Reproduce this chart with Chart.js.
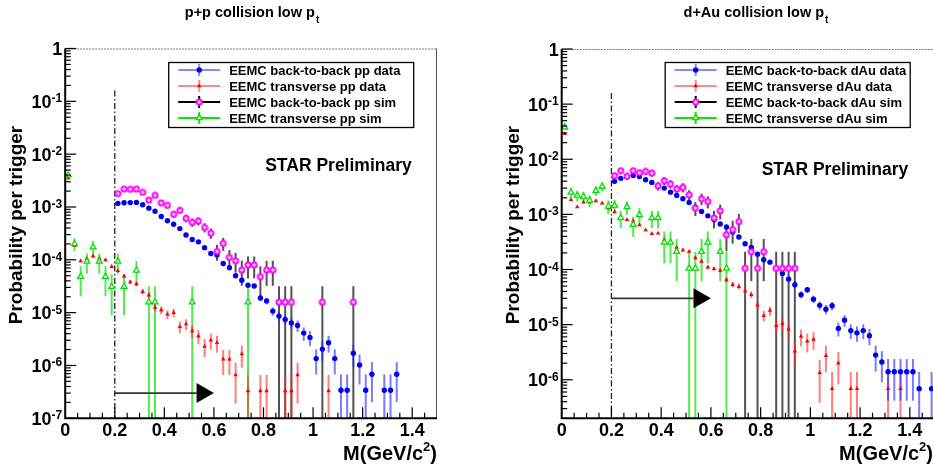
<!DOCTYPE html>
<html>
<head>
<meta charset="utf-8">
<script src="https://cdn.jsdelivr.net/npm/chart.js@4.4.1/dist/chart.umd.min.js"></script>
<style>
html, body { margin: 0; padding: 0; background: #fff; width: 933px; height: 470px; overflow: hidden; position: relative; }
#pp { position: absolute; left: 0; top: 0; }
#dau { position: absolute; left: 470px; top: 0; }
</style>
</head>
<body>
<canvas id="pp" width="470" height="470"></canvas>
<canvas id="dau" width="470" height="470"></canvas>
<script>
// bin centres in GeV/c^2 (0.025 wide bins)
const massBins = [
    0.0125, 0.0375, 0.0625, 0.0875, 0.1125, 0.1375, 0.1625, 0.1875, 0.2125, 0.2375,
    0.2625, 0.2875, 0.3125, 0.3375, 0.3625, 0.3875, 0.4125, 0.4375, 0.4625, 0.4875,
    0.5125, 0.5375, 0.5625, 0.5875, 0.6125, 0.6375, 0.6625, 0.6875, 0.7125, 0.7375,
    0.7625, 0.7875, 0.8125, 0.8375, 0.8625, 0.8875, 0.9125, 0.9375, 0.9625, 0.9875,
    1.0125, 1.0375, 1.0625, 1.0875, 1.1125, 1.1375, 1.1625, 1.1875, 1.2125, 1.2375,
    1.2625, 1.2875, 1.3125, 1.3375, 1.3625, 1.3875, 1.4125, 1.4375, 1.4625, 1.4875
];

// p+p panel
const ppB2BData = [
    null, null, null, null, null, null, null, null, 1.17e-3, 1.2e-3,
    1.21e-3, 1.22e-3, 1.1e-3, 9.5e-4, 8.3e-4, 6.6e-4, 5.5e-4, 4.7e-4, 3.9e-4, 2.94e-4,
    2.43e-4, 2.19e-4, 1.7e-4, 1.32e-4, 1.24e-4, 8.5e-5, 7.1e-5, 5.0e-5, 4.1e-5, 3.3e-5,
    3.2e-5, 1.9e-5, 1.67e-5, 1.07e-5, 8.6e-6, 7.4e-6, 6.4e-6, 5.7e-6, 4.1e-6, 3.4e-6,
    1.35e-6, 2.04e-6, 2.7e-6, 1.35e-6, 3.4e-7, 3.4e-7, 1.7e-6, 1.02e-6, 3.4e-7, 6.8e-7,
    null, 3.4e-7, 3.4e-7, 6.8e-7, null, null, null, null, null, null
];
const ppTransData = [
    3.5e-3, 1.85e-4, 9.5e-5, 1.05e-4, 1.17e-4, 1.05e-4, 9.9e-5, 7.4e-5, 6.2e-5, 4.9e-5,
    3.8e-5, 3.5e-5, 2.5e-5, 2.14e-5, 1.25e-5, 1.12e-5, 9.3e-6, 1.0e-5, 5.4e-6, 6.1e-6,
    4.5e-6, 3.6e-6, 2.3e-6, 3.0e-6, 2.7e-6, 1.32e-6, 1.32e-6, 6.6e-7, 1.65e-6, 3.3e-7,
    null, 3.3e-7, 3.3e-7, null, null, 3.3e-7, 3.3e-7, 6.6e-7, null, null,
    null, null, 3.3e-7, null, null, null, null, null, null, null,
    null, null, null, null, null, null, null, null, null, null
];
const ppB2BSim = [
    null, null, null, null, null, null, null, null, 1.8e-3, 2.18e-3,
    2.16e-3, 2.18e-3, 1.89e-3, 1.35e-3, 1.66e-3, 1.2e-3, 1.07e-3, 7.3e-4, 8.6e-4, 6.1e-4,
    5.1e-4, 5.4e-4, 4.1e-4, 3.2e-4, 1.44e-4, 2.04e-4, 1.11e-4, 9.6e-5, 6.4e-5, 8.0e-5,
    8.0e-5, 4.8e-5, 6.4e-5, 6.4e-5, 1.58e-5, 1.58e-5, 1.58e-5, null, null, null,
    null, 1.58e-5, null, null, null, null, 1.58e-5, null, null, null,
    null, null, null, null, null, null, null, null, null, null
];
const ppTransSim = [
    4.0e-3, 2.0e-4, 4.8e-5, 9.3e-5, 1.74e-4, 9.3e-5, 4.8e-5, 3.1e-5, 9.3e-5, 3.1e-5,
    null, 6.3e-5, null, 1.58e-5, 1.58e-5, null, null, null, null, null,
    1.58e-5, null, null, null, null, null, null, null, null, 1.58e-5,
    null, null, null, null, null, null, null, null, null, null,
    null, null, null, null, null, null, null, null, null, null,
    null, null, null, null, null, null, null, null, null, null
];

// d+Au panel
const dAuB2BData = [
    null, null, null, null, null, null, null, null, 4.0e-3, 4.5e-3,
    4.86e-3, 5.07e-3, 4.86e-3, 4.24e-3, 3.8e-3, 3.3e-3, 3.0e-3, 2.53e-3, 2.2e-3, 1.92e-3,
    1.64e-3, 1.35e-3, 1.13e-3, 9.4e-4, 8.0e-4, 6.7e-4, 5.9e-4, 4.8e-4, 3.9e-4, 2.94e-4,
    2.5e-4, 1.9e-4, 1.5e-4, 1.36e-4, 1.05e-4, 8.5e-5, 6.7e-5, 5.3e-5, 3.5e-5, 4.3e-5,
    2.9e-5, 2.24e-5, 1.9e-5, 2.2e-5, 8.5e-6, 1.2e-5, 7.8e-6, 7.1e-6, 7.8e-6, 6.3e-6,
    2.8e-6, 2.1e-6, 1.4e-6, 1.4e-6, 1.4e-6, 1.4e-6, 1.4e-6, 6.9e-7, null, 6.9e-7
];
const dAuTransData = [
    2.9e-2, 1.84e-3, 1.36e-3, 1.66e-3, 1.67e-3, 1.76e-3, 1.6e-3, 1.3e-3, 1.11e-3, 8.8e-4,
    8.0e-4, 7.6e-4, 6.4e-4, 5.2e-4, 4.46e-4, 4.55e-4, 3.5e-4, 3.1e-4, 2.5e-4, 2.25e-4,
    2.12e-4, 1.62e-4, 1.4e-4, 1.1e-4, 1.03e-4, 9.6e-5, 6.5e-5, 5.3e-5, 4.9e-5, 4.1e-5,
    3.5e-5, 2.26e-5, 1.46e-5, 1.8e-5, 9.6e-6, 1.04e-5, 8.3e-6, 3.3e-6, 6.1e-6, 5.0e-6,
    5.4e-6, 1.34e-6, 2.74e-6, 6.9e-7, 2.0e-6, null, 6.9e-7, 6.9e-7, null, null,
    null, null, 6.9e-7, null, 6.9e-7, null, null, null, null, null
];
const dAuB2BSim = [
    null, null, null, null, null, null, null, null, 5.0e-3, 6.2e-3,
    4.9e-3, 6.2e-3, 5.7e-3, 6.0e-3, 5.6e-3, 3.3e-3, 4.07e-3, 3.55e-3, 2.88e-3, 3.08e-3,
    2.26e-3, 1.3e-3, 1.92e-3, 1.71e-3, 8.6e-4, 1.16e-3, 4.27e-4, 5.3e-4, 7.4e-4, 1.05e-4,
    2.1e-4, 1.05e-4, 2.1e-4, null, 1.05e-4, 1.05e-4, 1.05e-4, 1.05e-4, null, null,
    null, null, null, null, null, null, null, null, null, null,
    null, null, null, null, null, null, null, null, null, null
];
const dAuTransSim = [
    3.8e-2, 2.5e-3, 2.2e-3, 2.1e-3, 1.79e-3, 2.68e-3, 3.2e-3, 1.4e-3, 1.45e-3, 8.6e-4,
    1.36e-3, 6.5e-4, 9.8e-4, null, 8.6e-4, 8.6e-4, 3.1e-4, 3.1e-4, 2.1e-4, null,
    1.05e-4, 1.05e-4, 2.1e-4, 3.1e-4, null, 2.1e-4, 1.05e-4, null, null, null,
    null, null, null, null, null, null, null, null, null, null,
    null, null, null, null, null, null, null, null, null, null,
    null, null, null, null, null, null, null, null, null, null
];

// probability of a single entry (error bars are sqrt(N))
const ppDataUnit = 3.35e-7;
const ppSimUnit = 1.58e-5;
const dAuDataUnit = 6.9e-7;
const dAuSimUnit = 1.05e-4;

// axes
const xMajorTicks = [0, 0.2, 0.4, 0.6, 0.8, 1.0, 1.2, 1.4];
const xTickLabels = ['0', '0.2', '0.4', '0.6', '0.8', '1', '1.2', '1.4'];
const ppDecades = [0, -1, -2, -3, -4, -5, -6, -7];
const dAuDecades = [0, -1, -2, -3, -4, -5, -6];

// cut line and arrow
const cutMass = 0.2;
const cutLineTop = 0.16;
const arrowBase = 0.53;
const arrowTip = 0.6;
const ppArrowLevel = 3e-7;
const dAuArrowLevel = 3e-5;

const FONT = '"Liberation Sans", Arial, Helvetica, sans-serif';

// magenta open-cross marker
const simMarker = document.createElement('canvas');
simMarker.width = 8;
simMarker.height = 8;
(function () {
    const m = simMarker.getContext('2d');
    m.fillStyle = '#ff00ff';
    m.beginPath();
    m.arc(4, 4, 3.5, 0, Math.PI * 2);
    m.fill();
    m.fillStyle = '#ffffff';
    m.fillRect(3.4, 2.3, 1.2, 3.4);
    m.fillRect(2.3, 3.4, 3.4, 1.2);
})();

const styles = {
    b2bData: { kind: 'circle', pointStyle: 'circle', radius: 2.7, fill: '#0000ee', border: '#0000ee', bw: 0,
        err: 'rgba(40,40,255,0.62)', legendLine: 'rgba(60,60,255,0.6)' },
    transData: { kind: 'triangle', pointStyle: 'triangle', radius: 2.6, fill: '#ff0000', border: '#ff0000', bw: 0,
        err: 'rgba(255,40,40,0.6)', legendLine: 'rgba(255,60,60,0.6)' },
    b2bSim: { kind: 'image', pointStyle: simMarker, radius: 4, fill: '#ff00ff', border: '#ff00ff', bw: 0,
        err: 'rgba(0,0,0,0.68)', legendLine: '#000000' },
    transSim: { kind: 'open', pointStyle: 'triangle', radius: 3.4, fill: '#ffffff', border: '#00e000', bw: 1.3,
        err: 'rgba(20,230,20,0.75)', legendLine: '#00ee00' }
};

function toPoints(values) {
    const pts = [];
    values.forEach(function (v, i) {
        if (v !== null) pts.push({ x: massBins[i], y: v });
    });
    return pts;
}

function drawMarker(ctx, st, x, y) {
    ctx.save();
    if (st.kind === 'image') {
        ctx.drawImage(st.pointStyle, x - 4, y - 4);
    } else if (st.kind === 'circle') {
        ctx.fillStyle = st.fill;
        ctx.beginPath();
        ctx.arc(x, y, st.radius, 0, Math.PI * 2);
        ctx.fill();
    } else {
        const r = st.radius;
        ctx.beginPath();
        for (let j = 0; j < 3; j++) {
            const a = j * 2 * Math.PI / 3;
            const px = x + Math.sin(a) * r, py = y - Math.cos(a) * r;
            if (j === 0) ctx.moveTo(px, py); else ctx.lineTo(px, py);
        }
        ctx.closePath();
        ctx.fillStyle = st.fill;
        ctx.fill();
        if (st.bw) {
            ctx.strokeStyle = st.border;
            ctx.lineWidth = st.bw;
            ctx.stroke();
        }
    }
    ctx.restore();
}

const rootStyle = {
    id: 'rootStyle',
    beforeDatasetsDraw(chart) {
        const ctx = chart.ctx;
        const xs = chart.scales.x, ys = chart.scales.y;
        const area = chart.chartArea;
        const p = chart.options.plugins.rootStyle;

        // error bars (sqrt N)
        ctx.save();
        ctx.lineWidth = 2;
        chart.data.datasets.forEach(function (ds) {
            if (!ds.errUnit) return;
            ctx.strokeStyle = ds.errColor;
            ds.data.forEach(function (pt) {
                const e = Math.sqrt(pt.y * ds.errUnit);
                const lo = pt.y - e, hi = pt.y + e;
                const x = xs.getPixelForValue(pt.x);
                const yTop = Math.max(area.top, ys.getPixelForValue(hi));
                const yBot = lo <= ys.min ? area.bottom : Math.min(area.bottom, ys.getPixelForValue(lo));
                ctx.beginPath();
                ctx.moveTo(x, yTop);
                ctx.lineTo(x, yBot);
                ctx.stroke();
            });
        });
        ctx.restore();

        // dash-dot cut line
        ctx.save();
        ctx.strokeStyle = '#222';
        ctx.lineWidth = 1.3;
        ctx.setLineDash([6, 2.5, 1.5, 2.5]);
        const cx = xs.getPixelForValue(cutMass);
        ctx.beginPath();
        ctx.moveTo(cx, ys.getPixelForValue(cutLineTop));
        ctx.lineTo(cx, area.bottom);
        ctx.stroke();
        ctx.restore();

        // arrow
        ctx.save();
        const ay = ys.getPixelForValue(p.arrowLevel);
        ctx.strokeStyle = '#333';
        ctx.lineWidth = 1.6;
        ctx.beginPath();
        ctx.moveTo(xs.getPixelForValue(cutMass), ay);
        ctx.lineTo(xs.getPixelForValue(arrowBase), ay);
        ctx.stroke();
        ctx.fillStyle = '#000';
        ctx.beginPath();
        ctx.moveTo(xs.getPixelForValue(arrowTip), ay);
        ctx.lineTo(xs.getPixelForValue(arrowBase), ay - 10);
        ctx.lineTo(xs.getPixelForValue(arrowBase), ay + 10);
        ctx.closePath();
        ctx.fill();
        ctx.restore();
    },
    afterDraw(chart) {
        const ctx = chart.ctx;
        const xs = chart.scales.x, ys = chart.scales.y;
        const area = chart.chartArea;
        const p = chart.options.plugins.rootStyle;
        ctx.save();

        // frame
        ctx.strokeStyle = '#777';
        ctx.lineWidth = 1;
        ctx.setLineDash([2, 1]);
        ctx.beginPath();
        ctx.moveTo(area.left, area.top + 0.5);
        ctx.lineTo(area.right, area.top + 0.5);
        ctx.stroke();
        ctx.setLineDash([]);
        ctx.strokeStyle = '#555';
        ctx.beginPath();
        ctx.moveTo(area.right - 0.5, area.top);
        ctx.lineTo(area.right - 0.5, area.bottom);
        ctx.stroke();
        ctx.strokeStyle = '#000';
        ctx.lineWidth = 2;
        ctx.beginPath();
        ctx.moveTo(area.left, area.top);
        ctx.lineTo(area.left, area.bottom);
        ctx.lineTo(area.right, area.bottom);
        ctx.stroke();

        // y ticks
        ctx.lineWidth = 1.2;
        ctx.strokeStyle = '#000';
        p.decades.forEach(function (d) {
            const y = ys.getPixelForValue(Math.pow(10, d));
            ctx.beginPath();
            ctx.moveTo(area.left, y);
            ctx.lineTo(area.left + 11, y);
            ctx.stroke();
            for (let m = 2; m <= 9; m++) {
                const v = m * Math.pow(10, d - 1);
                if (v < ys.min * 0.999 || v > 1) continue;
                const ym = ys.getPixelForValue(v);
                ctx.beginPath();
                ctx.moveTo(area.left, ym);
                ctx.lineTo(area.left + 5.5, ym);
                ctx.stroke();
            }
        });

        // x ticks
        for (let i = 1; i < 30; i++) {
            const v = i * 0.05;
            const major = i % 4 === 0;
            const x = xs.getPixelForValue(v);
            ctx.beginPath();
            ctx.moveTo(x, area.bottom);
            ctx.lineTo(x, area.bottom - (major ? 11 : 5.5));
            ctx.stroke();
        }

        // y tick labels
        ctx.fillStyle = '#000';
        const big = 'bold 18px ' + FONT;
        const small = 'bold 12px ' + FONT;
        p.decades.forEach(function (d) {
            const y = ys.getPixelForValue(Math.pow(10, d));
            const right = area.left - 3;
            if (d === 0) {
                ctx.font = big;
                ctx.textAlign = 'right';
                ctx.fillText('1', right, y + 6.5);
            } else {
                ctx.textAlign = 'left';
                ctx.font = small;
                const ew = ctx.measureText(String(d)).width;
                ctx.fillText(String(d), right - ew, y + 1);
                ctx.font = big;
                const bw = ctx.measureText('10').width;
                ctx.fillText('10', right - ew - bw, y + 6.5);
            }
        });

        // x tick labels
        ctx.font = big;
        ctx.textAlign = 'center';
        xMajorTicks.forEach(function (v, i) {
            ctx.fillText(xTickLabels[i], xs.getPixelForValue(v), area.bottom + 18);
        });

        // x title
        ctx.textAlign = 'left';
        ctx.font = 'bold 20px ' + FONT;
        const t1 = 'M(GeV/c', t3 = ')';
        const w1 = ctx.measureText(t1).width, w3 = ctx.measureText(t3).width;
        ctx.font = 'bold 13px ' + FONT;
        const w2 = ctx.measureText('2').width;
        let tx = p.xTitleRight - w1 - w2 - w3;
        ctx.font = 'bold 20px ' + FONT;
        ctx.fillText(t1, tx, 460);
        ctx.font = 'bold 13px ' + FONT;
        ctx.fillText('2', tx + w1, 451);
        ctx.font = 'bold 20px ' + FONT;
        ctx.fillText(t3, tx + w1 + w2, 460);

        // y title
        ctx.save();
        ctx.translate(p.yTitleX, 225);
        ctx.rotate(-Math.PI / 2);
        ctx.textAlign = 'center';
        ctx.textBaseline = 'middle';
        ctx.font = 'bold 19px ' + FONT;
        ctx.fillText('Probability per trigger', 0, 0);
        ctx.restore();

        // title with subscript
        ctx.font = 'bold 14.5px ' + FONT;
        const tw = ctx.measureText(p.title).width;
        ctx.font = 'bold 10px ' + FONT;
        const sw = ctx.measureText('t').width;
        const tStart = p.titleX - (tw + sw) / 2;
        ctx.font = 'bold 14.5px ' + FONT;
        ctx.fillText(p.title, tStart, 17);
        ctx.font = 'bold 10px ' + FONT;
        ctx.fillText('t', tStart + tw + 1, 23);

        // STAR Preliminary
        ctx.font = 'bold 17.5px ' + FONT;
        ctx.fillText('STAR Preliminary', area.left + 200, p.starY);

        // legend
        const lx = area.left + 103, ly = 62, lw = 245, lh = 65;
        ctx.fillStyle = '#fff';
        ctx.fillRect(lx, ly, lw, lh);
        ctx.strokeStyle = '#000';
        ctx.lineWidth = 1.3;
        ctx.strokeRect(lx + 0.5, ly + 0.5, lw, lh);
        const rows = [70, 86, 102, 118];
        p.legend.forEach(function (entry, i) {
            const y = rows[i];
            const st = styles[entry.style];
            ctx.strokeStyle = st.legendLine;
            ctx.lineWidth = 2;
            ctx.beginPath();
            ctx.moveTo(lx + 10, y);
            ctx.lineTo(lx + 52, y);
            ctx.moveTo(lx + 31, y - 6);
            ctx.lineTo(lx + 31, y + 6);
            ctx.stroke();
            drawMarker(ctx, st, lx + 31, y);
            ctx.fillStyle = '#000';
            ctx.font = 'bold 13px ' + FONT;
            ctx.textAlign = 'left';
            ctx.fillText(entry.label, lx + 61, y + 5);
        });
        ctx.restore();
    }
};

function makePanel(canvasId, cfg) {
    const datasets = cfg.series.map(function (s) {
        const st = styles[s.style];
        return {
            label: s.label,
            data: toPoints(s.values),
            errUnit: s.unit,
            errColor: st.err,
            pointStyle: st.pointStyle,
            pointRadius: st.radius,
            pointBackgroundColor: st.fill,
            pointBorderColor: st.border,
            pointBorderWidth: st.bw,
            showLine: false
        };
    });
    new Chart(document.getElementById(canvasId), {
        type: 'scatter',
        data: { datasets: datasets },
        options: {
            responsive: false,
            animation: false,
            devicePixelRatio: 1,
            events: [],
            layout: { padding: cfg.pad },
            plugins: {
                legend: { display: false },
                tooltip: { enabled: false },
                rootStyle: cfg
            },
            scales: {
                x: { type: 'linear', min: 0, max: 1.5, display: false },
                y: { type: 'logarithmic', min: cfg.yMin, max: 1, display: false }
            }
        },
        plugins: [rootStyle]
    });
}

// series listed top-drawn first; legend keeps the plot order
makePanel('pp', {
    title: 'p+p collision low p',
    titleX: 251.5,
    yTitleX: 17,
    xTitleRight: 437,
    starY: 171,
    yMin: 1e-7,
    decades: ppDecades,
    arrowLevel: ppArrowLevel,
    pad: { left: 65.2, right: 33, top: 48.5, bottom: 51.7 },
    series: [
        { label: 'EEMC transverse pp sim', values: ppTransSim, unit: ppSimUnit, style: 'transSim' },
        { label: 'EEMC back-to-back pp sim', values: ppB2BSim, unit: ppSimUnit, style: 'b2bSim' },
        { label: 'EEMC transverse pp data', values: ppTransData, unit: ppDataUnit, style: 'transData' },
        { label: 'EEMC back-to-back pp data', values: ppB2BData, unit: ppDataUnit, style: 'b2bData' }
    ],
    legend: [
        { label: 'EEMC back-to-back pp data', style: 'b2bData' },
        { label: 'EEMC transverse pp data', style: 'transData' },
        { label: 'EEMC back-to-back pp sim', style: 'b2bSim' },
        { label: 'EEMC transverse pp sim', style: 'transSim' }
    ]
});

makePanel('dau', {
    title: 'd+Au collision low p',
    titleX: 285.5,
    yTitleX: 44,
    xTitleRight: 463,
    starY: 175,
    yMin: 2e-7,
    decades: dAuDecades,
    arrowLevel: dAuArrowLevel,
    pad: { left: 91.7, right: 5, top: 49, bottom: 51.7 },
    series: [
        { label: 'EEMC transverse dAu sim', values: dAuTransSim, unit: dAuSimUnit, style: 'transSim' },
        { label: 'EEMC back-to-back dAu sim', values: dAuB2BSim, unit: dAuSimUnit, style: 'b2bSim' },
        { label: 'EEMC transverse dAu data', values: dAuTransData, unit: dAuDataUnit, style: 'transData' },
        { label: 'EEMC back-to-back dAu data', values: dAuB2BData, unit: dAuDataUnit, style: 'b2bData' }
    ],
    legend: [
        { label: 'EEMC back-to-back dAu data', style: 'b2bData' },
        { label: 'EEMC transverse dAu data', style: 'transData' },
        { label: 'EEMC back-to-back dAu sim', style: 'b2bSim' },
        { label: 'EEMC transverse dAu sim', style: 'transSim' }
    ]
});
</script>
</body>
</html>
